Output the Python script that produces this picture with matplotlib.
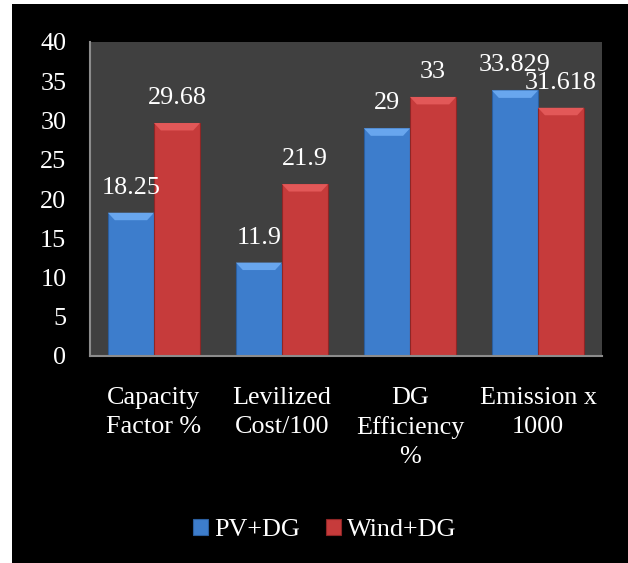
import numpy as np
import matplotlib.pyplot as plt
from matplotlib.patches import Polygon, Rectangle

# values for each scenario
categories = ["Capacity\nFactor %", "Levilized\nCost/100", "DG\nEfficiency\n%", "Emission x\n1000"]
pv_dg = [18.25, 11.9, 29, 33.829]
wind_dg = [29.68, 21.9, 33, 31.618]
pv_labels = ["18.25", "11.9", "29", "33.829"]
wind_labels = ["29.68", "21.9", "33", "31.618"]
yticks = [0, 5, 10, 15, 20, 25, 30, 35, 40]

plt.rcParams['font.family'] = ['Liberation Serif', 'DejaVu Serif']
fs = 18.8

fig = plt.figure(figsize=(6.28, 5.63), dpi=100, facecolor='white')
# black panel behind the whole chart
fig.patches.append(Rectangle((12/628, 0), 1, 1 - 4/563, transform=fig.transFigure,
                             facecolor='black', edgecolor='none', zorder=-10))

ax = fig.add_axes([90/628, 1 - 356/563, 512/628, 314/563])
ax.set_facecolor('#404040')

x = np.arange(len(categories))
w = 0.36
b1 = ax.bar(x - w/2, pv_dg, w, color='#3d7dcc', edgecolor='#2b5e9e', linewidth=0.8, zorder=2)
b2 = ax.bar(x + w/2, wind_dg, w, color='#c63b3b', edgecolor='#8e2626', linewidth=0.8, zorder=2)

# bevelled top on every bar
def bevel(bars, col):
    for p in bars:
        x0 = p.get_x()
        x1 = x0 + p.get_width()
        top = p.get_height()
        d = p.get_width() * 0.15
        h = 0.95
        ax.add_patch(Polygon([(x0, top), (x1, top), (x1 - d, top - h), (x0 + d, top - h)],
                             closed=True, facecolor=col, edgecolor='none', zorder=3))

bevel(b1, '#68a6ee')
bevel(b2, '#e25858')

for xi, v, t in zip(x - w/2, pv_dg, pv_labels):
    ax.annotate(t, (xi, v), xytext=(0, 18), textcoords='offset points',
                ha='center', va='center', color='white', fontsize=fs)
for xi, v, t in zip(x + w/2, wind_dg, wind_labels):
    ax.annotate(t, (xi, v), xytext=(0, 18), textcoords='offset points',
                ha='center', va='center', color='white', fontsize=fs)

ax.set_xlim(-0.5, len(categories) - 0.5)
ax.set_ylim(0, 40)
ax.set_yticks(yticks)
ax.set_xticks(x)
ax.set_xticklabels(categories, linespacing=1.42)
ax.tick_params(axis='y', length=0, pad=17, labelsize=fs, labelcolor='white')
ax.tick_params(axis='x', length=0, pad=22, labelsize=fs, labelcolor='white')
for lab in ax.get_xticklabels():
    lab.set_verticalalignment('top')

for s in ['top', 'right']:
    ax.spines[s].set_visible(False)
for s in ['left', 'bottom']:
    ax.spines[s].set_color('#8c8c8c')
    ax.spines[s].set_linewidth(1.5)

leg = fig.legend([b1, b2], ["PV+DG", "Wind+DG"], loc='center', ncol=2,
                 bbox_to_anchor=(325/628, 1 - 530/563), frameon=False,
                 fontsize=fs, labelcolor='white', handlelength=0.55, handleheight=0.55,
                 handletextpad=0.25, columnspacing=1.0)

plt.savefig("out.png", dpi=100, facecolor=fig.get_facecolor())
